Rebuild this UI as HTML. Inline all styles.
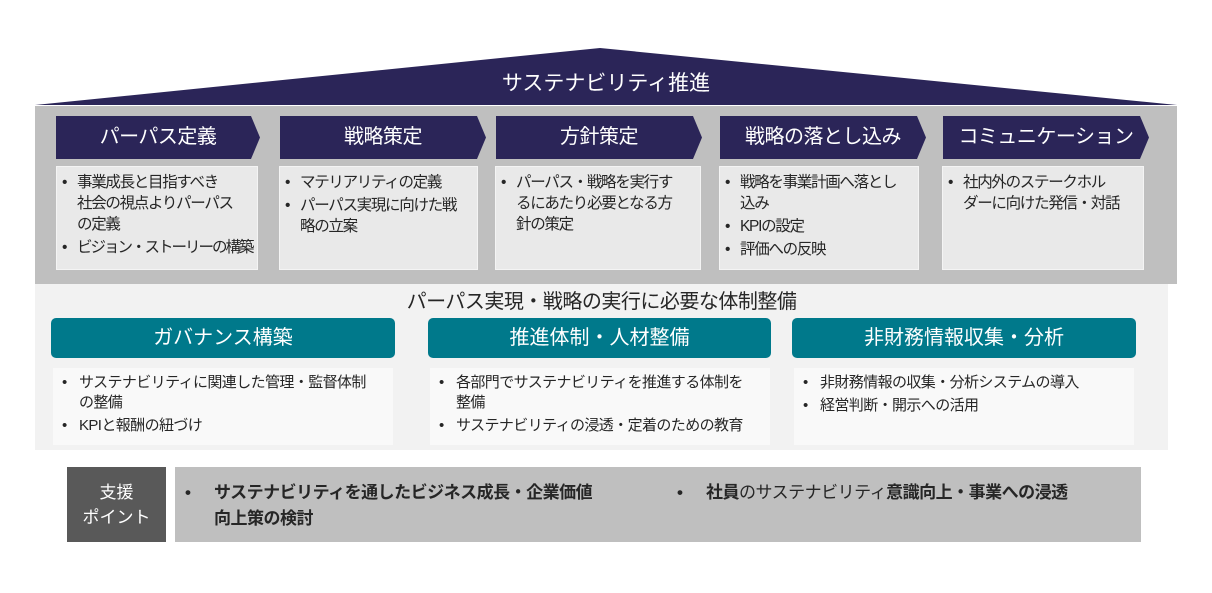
<!DOCTYPE html>
<html><head><meta charset="utf-8"><style>
*{margin:0;padding:0;box-sizing:border-box}
body{width:1212px;height:593px;background:#fff;position:relative;overflow:hidden;font-family:"Liberation Sans","Noto Sans CJK JP",sans-serif;color:#262626}
.a{position:absolute}
.chev{position:absolute;top:116px;height:43px;background:#2b2558;color:#fff;font-size:20px;line-height:43px;text-align:center;letter-spacing:-0.5px;clip-path:polygon(0 0,calc(100% - 9px) 0,100% 50%,calc(100% - 9px) 100%,0 100%)}
.box{position:absolute;top:166px;height:104px;background:#e9e9e9;border:1px solid #f4f4f4;font-size:15.5px;line-height:21px;padding:5px 2px 0 2px;letter-spacing:-1.3px;white-space:nowrap;overflow:hidden}
.box ul{list-style:none}
.box li{position:relative;padding-left:18px;margin-bottom:2px}
.box li:before{content:"•";position:absolute;left:3px;top:0}
.teal{position:absolute;top:318px;height:40px;background:#00798b;color:#fff;font-size:20px;line-height:40px;text-align:center;border-radius:5px}
.wb{position:absolute;top:368px;height:77px;background:#f9f9f9;font-size:15px;line-height:20px;padding:5px 4px 0 4px;letter-spacing:-0.6px;white-space:nowrap}
.wb ul{list-style:none}
.wb li{position:relative;padding-left:22px;margin-bottom:3px}
.wb li:before{content:"•";position:absolute;left:5px;top:0}
</style></head><body>
<svg class="a" style="left:0;top:0" width="1212" height="110"><polygon points="35,105 600,48 1177,105" fill="#2b2558"/></svg>
<div class="a" style="left:35px;top:69px;width:1142px;text-align:center;color:#fff;font-size:21px;line-height:30px">サステナビリティ推進</div>
<div class="a" style="left:35px;top:106px;width:1142px;height:178px;background:#bfbfbf"></div>
<div class="chev" style="left:56px;width:204px">パーパス定義</div>
<div class="chev" style="left:280px;width:206px">戦略策定</div>
<div class="chev" style="left:496px;width:206px">方針策定</div>
<div class="chev" style="left:720px;width:206px">戦略の落とし込み</div>
<div class="chev" style="left:943px;width:206px">コミュニケーション</div>
<div class="box" style="left:56px;width:202px"><ul><li>事業成長と目指すべき<br>社会の視点よりパーパス<br>の定義</li><li style="letter-spacing:-2px">ビジョン・ストーリーの構築</li></ul></div>
<div class="box" style="left:279px;width:199px"><ul><li>マテリアリティの定義</li><li>パーパス実現に向けた戦<br>略の立案</li></ul></div>
<div class="box" style="left:495px;width:206px"><ul><li>パーパス・戦略を実行す<br>るにあたり必要となる方<br>針の策定</li></ul></div>
<div class="box" style="left:719px;width:200px"><ul><li>戦略を事業計画へ落とし<br>込み</li><li>KPIの設定</li><li>評価への反映</li></ul></div>
<div class="box" style="left:942px;width:202px"><ul><li>社内外のステークホル<br>ダーに向けた発信・対話</li></ul></div>
<div class="a" style="left:35px;top:284px;width:1133px;height:166px;background:#f2f2f2"></div>
<div class="a" style="left:35px;top:289px;width:1133px;text-align:center;font-size:20px;line-height:26px;letter-spacing:-0.5px">パーパス実現・戦略の実行に必要な体制整備</div>
<div class="teal" style="left:51px;width:344px">ガバナンス構築</div>
<div class="teal" style="left:428px;width:343px">推進体制・人材整備</div>
<div class="teal" style="left:792px;width:344px">非財務情報収集・分析</div>
<div class="wb" style="left:53px;width:340px"><ul><li>サステナビリティに関連した管理・監督体制<br>の整備</li><li>KPIと報酬の紐づけ</li></ul></div>
<div class="wb" style="left:430px;width:340px"><ul><li>各部門でサステナビリティを推進する体制を<br>整備</li><li>サステナビリティの浸透・定着のための教育</li></ul></div>
<div class="wb" style="left:794px;width:340px"><ul><li>非財務情報の収集・分析システムの導入</li><li>経営判断・開示への活用</li></ul></div>
<div class="a" style="left:67px;top:467px;width:99px;height:75px;background:#595959;color:#fff;font-size:17px;line-height:25px;text-align:center;padding-top:13px">支援<br>ポイント</div>
<div class="a" style="left:175px;top:467px;width:966px;height:75px;background:#bfbfbf"></div>
<div class="a" style="left:185px;top:480px;font-size:17px;line-height:26px;font-weight:bold">•</div>
<div class="a" style="left:214px;top:480px;width:440px;font-size:17px;line-height:26px;font-weight:bold;letter-spacing:-0.5px">サステナビリティを通したビジネス成長・企業価値<br>向上策の検討</div>
<div class="a" style="left:677px;top:480px;font-size:17px;line-height:26px;font-weight:bold">•</div>
<div class="a" style="left:706px;top:480px;font-size:17px;line-height:26px;letter-spacing:-0.5px"><b>社員</b>のサステナビリティ<b>意識向上・事業への浸透</b></div>
</body></html>
